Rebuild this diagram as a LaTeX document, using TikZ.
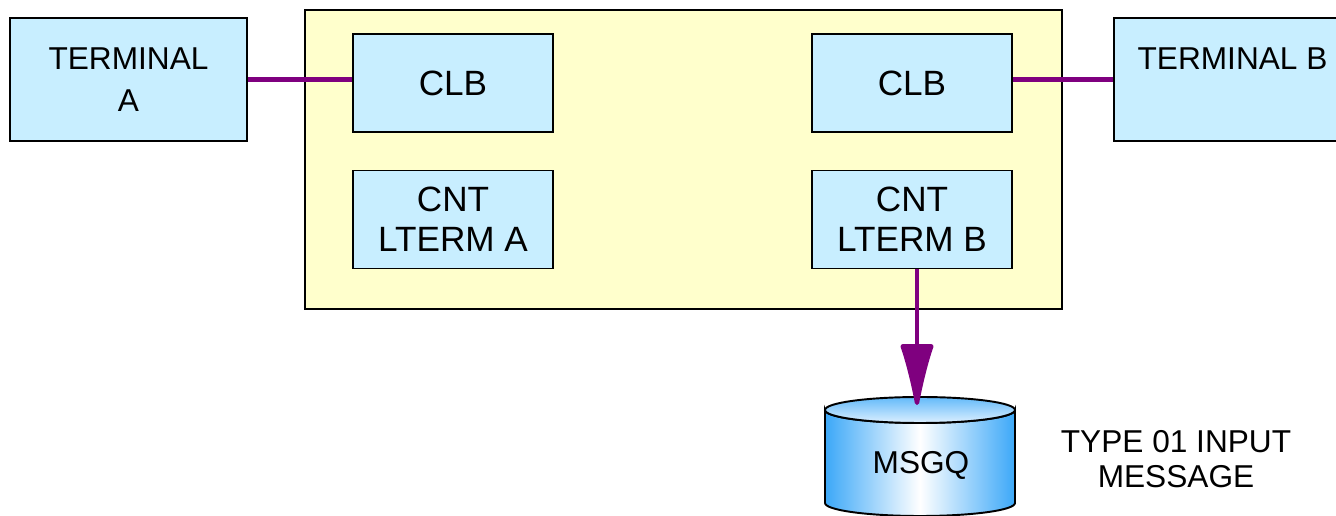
\documentclass[tikz,border=0pt]{standalone}
\usepackage{fontspec}
\setmainfont{Liberation Sans}
\usepackage{tikz}
\usetikzlibrary{arrows.meta,positioning}
\definecolor{PaleCyan}{HTML}{C8EEFF}
\definecolor{PaleYellow}{HTML}{FFFFCC}
\definecolor{Plum}{HTML}{7F007F}
\definecolor{QueueBlue}{HTML}{3CA8F8}
\definecolor{QueueLight}{HTML}{A8D8FF}
\begin{document}
\begin{tikzpicture}[x=0.02cm, y=-0.02cm, line width=1.1pt]
\tikzset{region/.style={draw=black, fill=PaleYellow, minimum width=15.14cm, minimum height=5.98cm}, term/.style={draw=black, fill=PaleCyan, align=center, minimum width=4.74cm, minimum height=2.46cm, font=\fontsize{18}{23.5}\selectfont}, blk/.style={draw=black, fill=PaleCyan, align=center, minimum width=4cm, minimum height=1.96cm, font=\fontsize{20}{22.5}\selectfont}, link/.style={draw=Plum, line width=2.5pt}}
\useasboundingbox (0,0) rectangle (1336,516);
\node[term] (terma) at (128.5,79.5) {TERMINAL\\A};
\node[term] (termb) at (1232.5,79.5) {TERMINAL B\\\phantom{A}};
\node[region] (ims) at (683.5,159.5) {};
\node[blk] (clba) at (453,83) {CLB};
\node[blk] (lterma) at (453,219.5) {CNT\\LTERM A};
\node[blk] (clbb) at (912,83) {CLB};
\node[blk] (ltermb) at (912,219.5) {CNT\\LTERM B};
\draw[link] (terma.east) -- (clba.west |- terma.east);
\draw[link] (clbb.east |- termb.west) -- (termb.west);
\shade[draw=black, left color=QueueBlue, right color=QueueBlue, middle color=white] (825,410) -- (825,503) arc[start angle=180, end angle=0, x radius=95, y radius=13] -- (1015,410) arc[start angle=0, end angle=180, x radius=95, y radius=13] -- cycle;
\shade[draw=black, top color=QueueBlue!80, bottom color=QueueLight!40] (920,410) ellipse[x radius=95, y radius=13];
\node[font=\fontsize{18}{22}\selectfont] (msgq) at (921,465) {MSGQ};
\coordinate (qtop) at (917,405);
\draw[link, -{Latex[length=1.45cm, width=0.7cm, round]}] (ltermb.south -| qtop) -- (qtop);
\node[align=center, font=\fontsize{18}{19.5}\selectfont] (note) at (1176,459) {TYPE 01 INPUT\\MESSAGE};
\end{tikzpicture}
\end{document}
